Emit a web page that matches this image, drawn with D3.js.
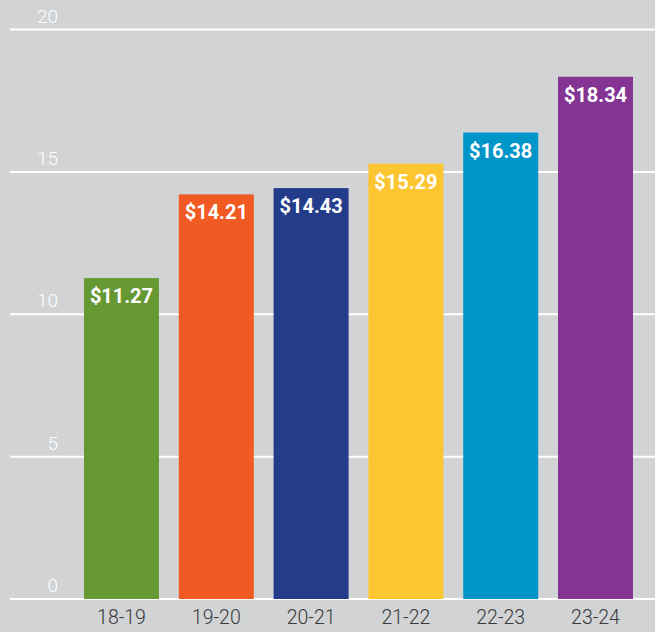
<!DOCTYPE html>
<html>
<head>
<meta charset="utf-8">
<script src="https://cdn.jsdelivr.net/npm/d3@7"></script>
<style>
html,body{margin:0;padding:0;background:#d1d3d4;}
svg{display:block;}
</style>
</head>
<body>
<svg id="chart" width="655" height="632"></svg>
<script>
const categories = ["18-19","19-20","20-21","21-22","22-23","23-24"];
const values = [11.27, 14.21, 14.43, 15.29, 16.38, 18.34];
const valueLabels = ["$11.27","$14.21","$14.43","$15.29","$16.38","$18.34"];
const colors = ["#669933","#f15a22","#233d8b","#fdc530","#0095c8","#843594"];
const yTicks = [0,5,10,15,20];

const svg = d3.select("#chart");
const W = 655, H = 632;
svg.append("rect").attr("width",W).attr("height",H).attr("fill","#d1d3d4");

const y = d3.scaleLinear().domain([0,20]).range([599,29.5]);
const x = d3.scaleBand().domain(categories).range([84,633]).paddingInner(0.209).paddingOuter(0);

// gridlines
const grid = svg.append("g");
grid.selectAll("line").data(yTicks).join("line")
  .attr("x1",10).attr("x2",W)
  .attr("y1",d=>y(d)).attr("y2",d=>y(d))
  .attr("stroke","#ffffff").attr("stroke-width",2);

grid.selectAll("text").data(yTicks).join("text")
  .attr("x",58).attr("y",d=>y(d)-7)
  .attr("text-anchor","end")
  .attr("fill","#ffffff")
  .attr("font-family","Roboto, sans-serif")
  .attr("font-weight",300)
  .attr("font-size",19)
  .text(d=>d);

// bars
svg.append("g").selectAll("rect").data(values).join("rect")
  .attr("x",(d,i)=>x(categories[i]))
  .attr("width",x.bandwidth())
  .attr("y",d=>y(d))
  .attr("height",d=>y(0)-y(d))
  .attr("fill",(d,i)=>colors[i]);

// value labels
svg.append("g").selectAll("text").data(values).join("text")
  .attr("x",(d,i)=>x(categories[i])+x.bandwidth()/2)
  .attr("y",d=>y(d)+25)
  .attr("text-anchor","middle")
  .attr("fill","#ffffff")
  .attr("font-family","Roboto, sans-serif")
  .attr("font-weight",700)
  .attr("font-size",20)
  .text((d,i)=>valueLabels[i]);

// x axis labels
const xAxis = d3.axisBottom(x).tickSize(0).tickPadding(0);
const gx = svg.append("g").attr("transform","translate(0,610)").call(xAxis);
gx.select(".domain").remove();
gx.selectAll("text")
  .attr("fill","#3a3a3c")
  .attr("font-family","Roboto, sans-serif")
  .attr("font-weight",300)
  .attr("font-size",19.5)
  .attr("dy","0.71em")
  .attr("y",0);
</script>
</body>
</html>
